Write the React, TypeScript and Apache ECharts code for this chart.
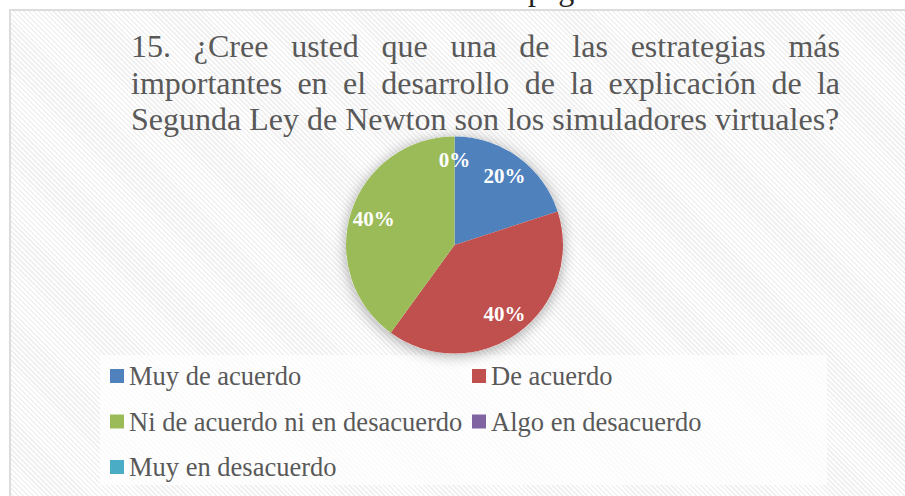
import React, { useEffect, useRef } from 'react';
import * as echarts from 'echarts';

const categories = [
  'Muy de acuerdo',
  'De acuerdo',
  'Ni de acuerdo ni en desacuerdo',
  'Algo en desacuerdo',
  'Muy en desacuerdo',
];
const values = [20, 40, 40, 0, 0];
const sliceColors = ['#4F81BD', '#C0504D', '#9BBB59', '#8064A2', '#4BACC6'];
const titleLines = [
  '15. ¿Cree usted que una de las estrategias más',
  'importantes en el desarrollo de la explicación de la',
  'Segunda Ley de Newton son los simuladores virtuales?',
];
const legendColumn1 = [0, 2, 4];
const legendColumn2 = [1, 3];

const FONT = '"Liberation Serif", "Times New Roman", Times, serif';
const TEXT_COLOR = '#595959';

function measure(text: string, font: string): number {
  const ctx = document.createElement('canvas').getContext('2d')!;
  ctx.font = font;
  return ctx.measureText(text).width;
}

function buildTitle(): any[] {
  const left = 131;
  const right = 840;
  const lastW100 = measure(titleLines[2], `100px ${FONT}`);
  const fs = Math.round(((right - left) / lastW100) * 100 * 2) / 2;
  const font = `${fs}px ${FONT}`;
  const baselines = [57, 93.5, 130];
  const els: any[] = [];
  titleLines.forEach((line, li) => {
    const y = baselines[li] - 0.34 * fs;
    if (li === titleLines.length - 1) {
      els.push({
        type: 'text', x: left, y, silent: true, z: 10,
        style: { text: line, font, fill: TEXT_COLOR, align: 'left', verticalAlign: 'middle' },
      });
      return;
    }
    const words = line.split(' ');
    const widths = words.map((w) => measure(w, font));
    const total = widths.reduce((a, b) => a + b, 0);
    const gap = (right - left - total) / (words.length - 1);
    let x = left;
    words.forEach((w, wi) => {
      els.push({
        type: 'text', x, y, silent: true, z: 10,
        style: { text: w, font, fill: TEXT_COLOR, align: 'left', verticalAlign: 'middle' },
      });
      x += widths[wi] + gap;
    });
  });
  return els;
}

export default function App() {
  const ref = useRef<HTMLDivElement>(null);
  useEffect(() => {
    if (!ref.current) return;
    const chart = echarts.init(ref.current, undefined, { renderer: 'svg' });
    const center = [454.5, 245];
    const R = 108.5;
    const legendBase = {
      orient: 'vertical',
      top: 361,
      itemWidth: 14,
      itemHeight: 14,
      itemGap: 15.5,
      padding: 0,
      icon: 'rect',
      selectedMode: false,
      textStyle: { fontSize: 26.5, lineHeight: 30, color: TEXT_COLOR, fontFamily: FONT },
    };
    const legendData = (idx: number[]) =>
      idx.map((i) => ({ name: categories[i], itemStyle: { color: sliceColors[i] } }));
    chart.setOption({
      animation: false,
      backgroundColor: 'transparent',
      graphic: [
        {
          type: 'text', x: 528, y: -11, silent: true,
          style: { text: 'página', font: `32px ${FONT}`, fill: '#222', verticalAlign: 'middle' },
        },
        {
          type: 'rect', silent: true, z: 0,
          shape: { x: 100, y: 355, width: 727, height: 130 },
          style: { fill: 'rgba(255,255,255,0.72)' },
        },
        ...buildTitle(),
      ],
      legend: [
        { ...legendBase, left: 110, data: legendData(legendColumn1) },
        { ...legendBase, left: 472, data: legendData(legendColumn2) },
      ],
      series: [
        {
          type: 'pie', name: 'shadow', center, radius: R, silent: true, z: 1,
          data: [{ name: '_shadow', value: 1 }],
          label: { show: false }, labelLine: { show: false },
          itemStyle: { color: '#ffffff', shadowBlur: 14, shadowColor: 'rgba(0,0,0,0.35)', shadowOffsetY: 2 },
          emphasis: { disabled: true },
        },
        {
          type: 'pie', name: 'main', center, radius: R, startAngle: 90, clockwise: true,
          silent: true, z: 2,
          data: categories.map((n, i) => ({ name: n, value: values[i], itemStyle: { color: sliceColors[i] } })),
          label: { show: false }, labelLine: { show: false },
          emphasis: { disabled: true },
        },
        {
          type: 'pie', name: 'labels', center, radius: R * 1.51, startAngle: 90, clockwise: true,
          silent: true, z: 3,
          data: categories.map((n, i) => ({
            name: n, value: values[i],
            itemStyle: { color: 'rgba(0,0,0,0)' },
            label: { show: i !== categories.length - 1 },
          })),
          label: {
            show: true, position: 'inside',
            formatter: (p: any) => `${Math.round(p.percent)}%`,
            color: '#ffffff', fontSize: 21, fontWeight: 'bold', fontFamily: FONT,
          },
          labelLine: { show: false },
          emphasis: { disabled: true },
        },
      ],
    });
    return () => chart.dispose();
  }, []);

  return (
    <div style={{ position: 'fixed', left: 0, top: 0, width: 905, height: 496, background: '#fff', overflow: 'hidden' }}>
      <div
        style={{
          position: 'absolute', left: 9, top: 9, width: 1000, height: 600,
          borderLeft: '2px solid #dcdcdc', borderTop: '2px solid #dcdcdc',
          background: 'repeating-linear-gradient(45deg, #ffffff 0px, #ffffff 1.75px, #f1f1f1 1.75px, #f1f1f1 3.5px)',
        }}
      />
      <div ref={ref} style={{ position: 'absolute', left: 0, top: 0, width: 905, height: 496 }} />
    </div>
  );
}
